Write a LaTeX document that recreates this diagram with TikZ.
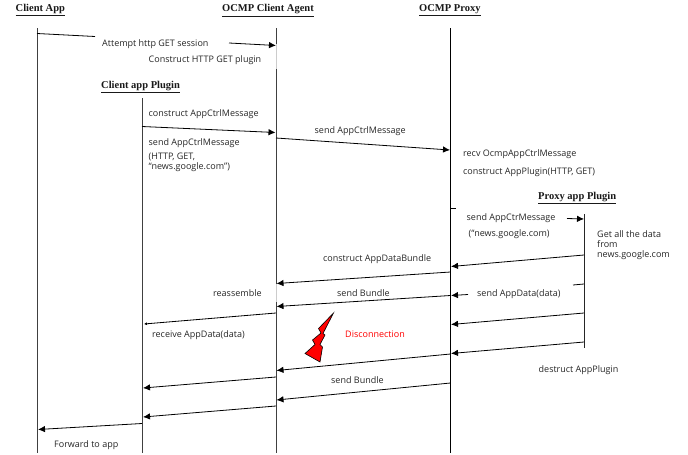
\documentclass[tikz,border=0pt]{standalone}
\usepackage{fontspec}
\setmainfont{Liberation Serif}
\newfontfamily\lblfont{Open Sans}
\usetikzlibrary{arrows.meta}
\tikzset{
  x=1pt,y=-1pt,
  life/.style={draw=black!75,line width=0.9pt},
  msg/.style={draw=black,line width=0.8pt,-{Latex[length=7pt,width=6.5pt]}},
  seg/.style={draw=black,line width=0.8pt},
  head/.style={font=\fontsize{10.5}{12}\selectfont\bfseries,inner sep=0pt,anchor=base west,text=black!90},
  lbl/.style={font=\lblfont\fontsize{9}{10}\selectfont,inner sep=0pt,anchor=base west,text=black!85,align=left},
}
\begin{document}
\begin{tikzpicture}
\useasboundingbox (0,0) rectangle (688,455);
% headers
\node[head] (hClient) at (15.5,12) {\underline{Client App}};
\node[head] (hAgent) at (222,12) {\underline{OCMP Client Agent}};
\node[head] (hProxy) at (419,12) {\underline{OCMP Proxy}};
\node[head] (hCPlug) at (101,88) {\underline{Client app Plugin}};
\node[head] (hPPlug) at (538,199) {\underline{Proxy app Plugin}};
% lifelines
\coordinate (cT) at (37,28); \coordinate (cB) at (37,453);
\coordinate (pT) at (142,98); \coordinate (pB) at (142,453);
\coordinate (aT) at (276,28); \coordinate (aB) at (276,453);
\coordinate (xT) at (450.5,28); \coordinate (xB) at (450.5,453);
\coordinate (yT) at (584,214); \coordinate (yB) at (584,348);
\coordinate (a1) at (276,44); \coordinate (a2) at (276,69);
\coordinate (a3) at (276,284); \coordinate (a4) at (276,302);
\draw[life] (cT) -- (cB);
\draw[life] (pT) -- (pB);
\draw[life] (aT) -- (a1);
\draw[draw=black!20,line width=0.5pt] (a1) -- (a2);
\draw[life] (a2) -- (a3);
\draw[draw=black!20,line width=0.5pt] (a3) -- (a4);
\draw[life] (a4) -- (aB);
\draw[draw=black,line width=0.8pt] (xT) -- (xB);
\draw[draw=black!85,line width=0.8pt] (yT) -- (yB);
% labels
\node[lbl] (t1) at (102,46) {Attempt http GET session};
\node[lbl] (t2) at (148.5,62.5) {Construct HTTP GET plugin};
\node[lbl] (t3) at (148.5,116) {construct AppCtrlMessage};
\node[lbl] (t4) at (148.5,145) {send AppCtrlMessage};
\node[lbl,anchor=north west,font=\lblfont\fontsize{9}{9.8}\selectfont] (t5) at (148.5,153) {(HTTP, GET,\\“news.google.com”)};
\node[lbl] (t6) at (314.5,133) {send AppCtrlMessage};
\node[lbl] (t7) at (463,156) {recv OcmpAppCtrlMessage};
\node[lbl] (t8) at (463,174) {construct AppPlugin(HTTP, GET)};
\node[lbl] (t9) at (466.5,220) {send AppCtrMessage};
\node[lbl] (t10) at (468.5,236) {(“news.google.com)};
\node[lbl,anchor=north west,font=\lblfont\fontsize{9}{10}\selectfont] (t11) at (597,230) {Get all the data\\from\\news.google.com};
\node[lbl] (t12) at (323,261) {construct AppDataBundle};
\node[lbl] (t13) at (213,296) {reassemble};
\node[lbl] (t14) at (337,296) {send Bundle};
\node[lbl] (t15) at (477,296) {send AppData(data)};
\node[lbl] (t16) at (152,337) {receive AppData(data)};
\node[lbl,text=red] (t17) at (345,337) {Disconnection};
\node[lbl] (t18) at (538.5,372) {destruct AppPlugin};
\node[lbl] (t19) at (331,383.5) {send Bundle};
\node[lbl] (t20) at (54,447) {Forward to app};
% free-end coordinates
\coordinate (m1a) at (37,33.5); \coordinate (m1b) at (95,36.5);
\coordinate (m2a) at (229,43); \coordinate (m2b) at (276,45.5);
\coordinate (m3a) at (142,126.5); \coordinate (m3b) at (275.5,132.5);
\coordinate (m4a) at (276,138); \coordinate (m4b) at (450,150);
\coordinate (m5a) at (450.5,208); \coordinate (m5b) at (456,208);
\coordinate (m6a) at (567,218.5); \coordinate (m6b) at (584,219);
\coordinate (m7a) at (584,255); \coordinate (m7b) at (451,266.5);
\coordinate (m8a) at (450.5,272); \coordinate (m8b) at (276.5,283.5);
\coordinate (m9a) at (468,294.5); \coordinate (m9b) at (451,295.5);
\coordinate (m10a) at (450.5,295.5); \coordinate (m10b) at (276.5,306.5);
\coordinate (m11a) at (584,284); \coordinate (m11b) at (573,285);
\coordinate (m12a) at (584,313); \coordinate (m12b) at (451,324.5);
\coordinate (m13a) at (276,313); \coordinate (m13b) at (144,324);
\coordinate (m14a) at (584,342); \coordinate (m14b) at (451,353.5);
\coordinate (m15a) at (450.5,354); \coordinate (m15b) at (276.5,370.5);
\coordinate (m16a) at (276,377); \coordinate (m16b) at (143,388);
\coordinate (m17a) at (450.5,383); \coordinate (m17b) at (276.5,400);
\coordinate (m18a) at (276,406); \coordinate (m18b) at (143,417);
\coordinate (m19a) at (142,423.5); \coordinate (m19b) at (38,429.5);
\draw[seg] (m1a) -- (m1b);
\draw[seg] (m5a) -- (m5b);
\draw[seg] (m11a) -- (m11b);
\foreach \n in {2,3,4,6,7,8,9,10,12,14,15,16,17,18,19}
  \draw[msg] (m\n a) -- (m\n b);
\draw[draw=black,line width=0.8pt,-{Latex[length=3pt,width=3pt]}] (m13a) -- (m13b);
% lightning
\draw[fill=red,draw=black,line width=0.6pt,line join=miter]
  (333.5,313) -- (318.5,328.5) -- (321,333) -- (312.5,340) -- (315,344.5) -- (305,353.5)
  -- (320,362) -- (322.5,347) -- (320,344.5) -- (325,335) -- (323,333.5) -- cycle;
\end{tikzpicture}
\end{document}
